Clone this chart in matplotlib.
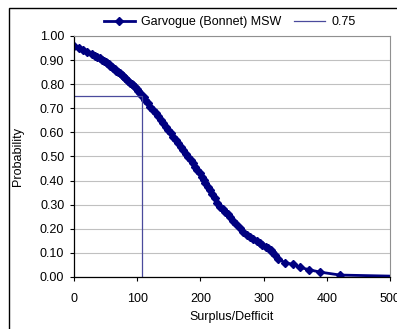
import matplotlib
matplotlib.use("Agg")
import matplotlib.pyplot as plt
from matplotlib.patches import Rectangle

plt.rcParams["font.family"] = ["Liberation Sans", "DejaVu Sans"]

# Garvogue (Bonnet) MSW exceedance curve
surplus = [0, 8, 15, 20, 28, 33, 37, 41, 44, 47, 50, 52, 55, 57, 60, 62, 65, 67,
           70, 73, 76, 78, 81, 83, 86, 88, 91, 94, 97, 99, 102, 104, 107, 110,
           113, 117, 121, 125, 129, 133, 137, 141, 145, 149, 153, 157, 161, 165,
           169, 173, 177, 181, 185, 189, 192, 195, 199, 202, 205, 208, 212, 215,
           219, 223, 227, 231, 235, 239, 243, 247, 252, 257, 262, 268, 273, 278,
           284, 289, 294, 298, 303, 307, 311, 314, 318, 322, 334, 346, 358, 372,
           390, 421, 530]
prob = [0.960, 0.949, 0.942, 0.935, 0.925, 0.917, 0.912, 0.907, 0.902, 0.897,
        0.892, 0.887, 0.882, 0.877, 0.871, 0.866, 0.861, 0.856, 0.851, 0.845,
        0.839, 0.833, 0.826, 0.820, 0.814, 0.807, 0.801, 0.795, 0.787, 0.779,
        0.771, 0.763, 0.753, 0.745, 0.733, 0.720, 0.707, 0.693, 0.680, 0.666,
        0.652, 0.638, 0.624, 0.610, 0.596, 0.582, 0.569, 0.555, 0.541, 0.527,
        0.512, 0.498, 0.485, 0.472, 0.458, 0.445, 0.430, 0.416, 0.403, 0.390,
        0.375, 0.361, 0.344, 0.327, 0.309, 0.292, 0.281, 0.270, 0.260, 0.250,
        0.234, 0.218, 0.203, 0.188, 0.176, 0.165, 0.157, 0.150, 0.140, 0.132,
        0.125, 0.119, 0.110, 0.102, 0.090, 0.075, 0.060, 0.052, 0.040, 0.030,
        0.020, 0.008, 0.002]

# 0.75 reference line
ref_x = [0, 108, 108]
ref_y = [0.75, 0.75, 0.0]

xticks = [0, 100, 200, 300, 400, 500]
yticks = [0.0, 0.1, 0.2, 0.3, 0.4, 0.5, 0.6, 0.7, 0.8, 0.9, 1.0]

fig = plt.figure(figsize=(3.97, 3.29), dpi=100)
ax = fig.add_axes([0.1864, 0.1581, 0.796, 0.7325])

# outer chart frame (cut off on right/bottom)
fig.patches.append(Rectangle((9 / 397, -0.1), 1.2, 1 - 8 / 329 + 0.1,
                             transform=fig.transFigure, fill=False,
                             edgecolor="black", linewidth=1.0))

ax.plot(surplus, prob, color="#000080", linewidth=2.0, marker="D",
        markersize=4, label="Garvogue (Bonnet) MSW")
ax.plot(ref_x, ref_y, color="#4a4a9c", linewidth=0.9, label="0.75")

ax.set_xlim(0, 500)
ax.set_ylim(0, 1.0)
ax.set_xticks(xticks)
ax.set_yticks(yticks)
ax.set_yticklabels(["%.2f" % v for v in yticks])
ax.tick_params(labelsize=9, direction="out", length=3, width=0.8, colors="black")
ax.tick_params(axis="x", pad=8.5)
ax.tick_params(axis="y", pad=4)
ax.yaxis.grid(True, color="#c0c0c0", linewidth=0.8)
ax.set_axisbelow(True)
for s in ["top", "right"]:
    ax.spines[s].set_color("#909090")
    ax.spines[s].set_linewidth(0.8)
for s in ["left", "bottom"]:
    ax.spines[s].set_color("black")
    ax.spines[s].set_linewidth(0.9)

ax.set_xlabel("Surplus/Defficit", fontsize=9)
ax.set_ylabel("Probability", fontsize=9)
ax.xaxis.set_label_coords(0.5, -0.143)
ax.yaxis.set_label_coords(-0.158, 0.5)

fig.legend(loc="center", bbox_to_anchor=(0.579, 0.933), ncol=2, frameon=False,
           fontsize=9, handlelength=2.5, columnspacing=1.0, handletextpad=0.5)

plt.savefig("out.png", dpi=100)
